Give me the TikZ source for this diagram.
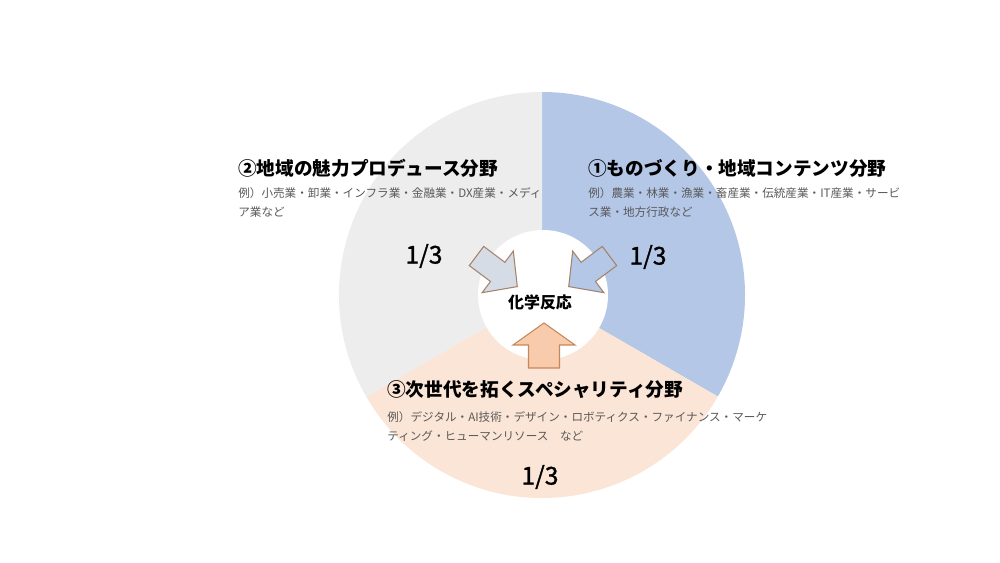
\documentclass[tikz,border=0pt]{standalone}
\usepackage{fontspec}
\setmainfont{Noto Sans CJK JP}
\newfontfamily\fracfont{Noto Sans CJK JP}[FakeBold=1.2]
\definecolor{blueseg}{HTML}{B4C7E7}
\definecolor{grayseg}{HTML}{EDEDED}
\definecolor{peachseg}{HTML}{FBE5D6}
\definecolor{arrowL}{HTML}{D6DCE5}
\definecolor{arrowR}{HTML}{B4C7E7}
\definecolor{arrowB}{HTML}{F8CBAD}
\definecolor{edgeLR}{HTML}{A5826A}
\definecolor{edgeB}{HTML}{C8875A}
\definecolor{subgray}{HTML}{595959}
\begin{document}
\begin{tikzpicture}[x=0.02cm,y=-0.02cm,
 title/.style={anchor=west,inner sep=0pt,font=\fontsize{10.6}{12}\selectfont\bfseries},
 sub/.style={anchor=west,inner sep=0pt,text=subgray,font=\fontsize{6.6}{8}\selectfont},
 frac/.style={inner sep=0pt,font=\fracfont\fontsize{14}{16}\selectfont},
 arrowshape/.style={line width=0.6pt,line join=miter}]
\useasboundingbox (0,0) rectangle (1000,563);
\fill[white] (0,0) rectangle (1000,563);
\coordinate (c) at (542,295);
% donut sectors
\fill[blueseg] (c) -- ++(-90:203) arc[start angle=-90,end angle=30,radius=203] -- cycle;
\fill[peachseg] (c) -- ++(30:203) arc[start angle=30,end angle=150,radius=203] -- cycle;
\fill[grayseg] (c) -- ++(150:203) arc[start angle=150,end angle=270,radius=203] -- cycle;
\fill[white] (543,295) circle[radius=65];
% arrows
\draw[arrowshape,fill=arrowL,draw=edgeLR] (483.7,246.4) -- (504.9,262.3) -- (513.3,251.1) -- (517.3,286.6) -- (482.1,292.7) -- (490.5,281.5) -- (469.3,265.6) -- cycle;
\draw[arrowshape,fill=arrowR,draw=edgeLR] (602.3,246.4) -- (581.1,262.3) -- (572.7,251.1) -- (568.7,286.6) -- (603.9,292.7) -- (595.5,281.5) -- (616.7,265.6) -- cycle;
\draw[arrowshape,fill=arrowB,draw=edgeB] (544,323) -- (575,345) -- (559.5,345) -- (559.5,368) -- (528.5,368) -- (528.5,345) -- (513,345) -- cycle;
% texts
\node[title] (t2) at (238,168) {②地域の魅力プロデュース分野};
\node[sub] (s2a) at (238,193) {例）小売業・卸業・インフラ業・金融業・DX産業・メディ};
\node[sub] (s2b) at (238,212) {ア業など};
\node[title] (t1) at (588,168) {①ものづくり・地域コンテンツ分野};
\node[sub] (s1a) at (588,193) {例）農業・林業・漁業・畜産業・伝統産業・IT産業・サービ};
\node[sub] (s1b) at (588,212) {ス業・地方行政など};
\node[title] (t3) at (387,390) {③次世代を拓くスペシャリティ分野};
\node[sub] (s3a) at (387,417) {例）デジタル・AI技術・デザイン・ロボティクス・ファイナンス・マーケ};
\node[sub] (s3b) at (387,436) {ティング・ヒューマンリソース　など};
\node[frac] (f2) at (424,256) {1/3};
\node[frac] (f1) at (648,257) {1/3};
\node[frac] (f3) at (540,477) {1/3};
\node[inner sep=0pt,font=\fontsize{9.1}{11}\selectfont\bfseries] (cr) at (540,302) {化学反応};
\end{tikzpicture}
\end{document}
